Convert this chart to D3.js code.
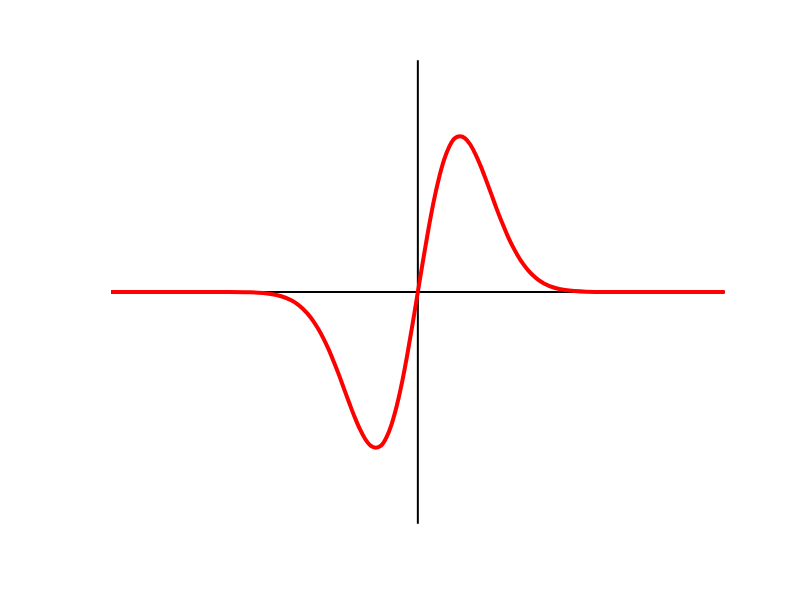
<!DOCTYPE html>
<html>
<head>
<meta charset="utf-8">
<script src="https://cdn.jsdelivr.net/npm/d3@7"></script>
<style>
  body { margin: 0; background: #fff; }
</style>
</head>
<body>
<script>
var xRight = [0.125, 0.25, 0.375, 0.5, 0.625, 0.75, 0.875, 1, 1.125, 1.25, 1.375, 1.5, 1.625, 1.75, 1.875,
              2, 2.125, 2.25, 2.375, 2.5, 2.625, 2.75, 2.875, 3, 3.25, 3.5, 4, 4.5, 5, 7.3];
var yRight = [0.124, 0.242, 0.350, 0.441, 0.514, 0.566, 0.597, 0.605, 0.597, 0.572, 0.534, 0.487, 0.434, 0.379, 0.323,
              0.271, 0.222, 0.179, 0.142, 0.110, 0.084, 0.063, 0.046, 0.033, 0.0165, 0.0076, 0.0013, 0.0002, 0, 0];
var xLimits = [-7.3, 7.3];
var yLimits = [-0.9, 0.9];

var width = 806, height = 606;

var svg = d3.select("body")
    .append("svg")
    .attr("width", width)
    .attr("height", height);

var xscale = d3.scaleLinear()
    .domain(xLimits)
    .range([111, 724.7]);

var yscale = d3.scaleLinear()
    .domain(yLimits)
    .range([523.7, 60.3]);

// axes through the origin
svg.append("line")
    .attr("x1", xscale(xLimits[0]))
    .attr("x2", xscale(xLimits[1]))
    .attr("y1", yscale(0))
    .attr("y2", yscale(0))
    .attr("stroke", "#000")
    .attr("stroke-width", 2);

svg.append("line")
    .attr("x1", xscale(0))
    .attr("x2", xscale(0))
    .attr("y1", yscale(yLimits[0]))
    .attr("y2", yscale(yLimits[1]))
    .attr("stroke", "#000")
    .attr("stroke-width", 2);

// build the full series: mirrored left half, origin, right half
var data = [];
for (var i = xRight.length - 1; i >= 0; i--) data.push([-xRight[i], -yRight[i]]);
data.push([0, 0]);
for (var j = 0; j < xRight.length; j++) data.push([xRight[j], yRight[j]]);

var line = d3.line()
    .x(function(d){ return xscale(d[0]); })
    .y(function(d){ return yscale(d[1]); })
    .curve(d3.curveMonotoneX);

svg.append("path")
    .datum(data)
    .attr("d", line)
    .attr("fill", "none")
    .attr("stroke", "#ff0000")
    .attr("stroke-width", 4)
    .attr("stroke-linejoin", "round");
</script>
</body>
</html>
